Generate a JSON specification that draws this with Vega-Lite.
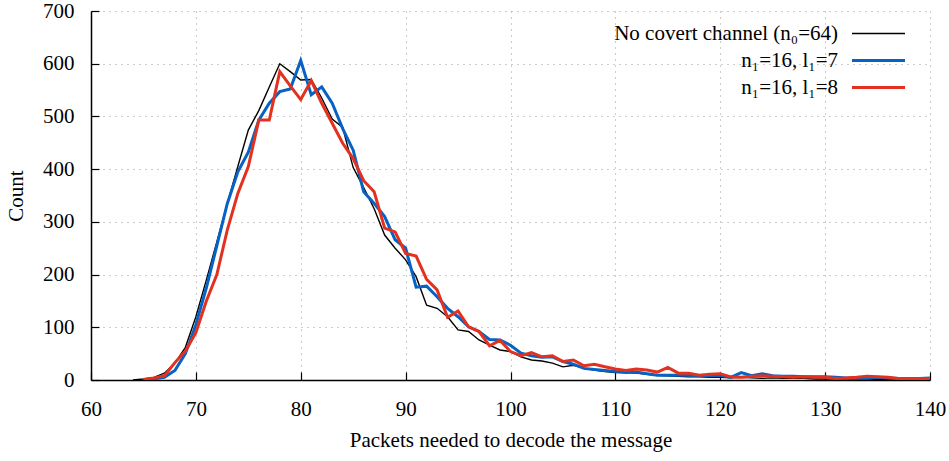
{
  "$schema": "https://vega.github.io/schema/vega-lite/v6.json",
  "width": 839,
  "height": 369,
  "autosize": "none",
  "padding": {"left": 91, "top": 11, "right": 19, "bottom": 81},
  "background": "white",
  "config": {
    "view": {"stroke": null},
    "font": "Liberation Serif",
    "axis": {
      "labelFont": "Liberation Serif",
      "labelFontSize": 21,
      "labelColor": "black",
      "labelFlush": false,
      "titleFont": "Liberation Serif",
      "titleFontSize": 21,
      "titleFontWeight": "normal",
      "titleColor": "black",
      "domainColor": "black",
      "domainWidth": 1.5,
      "tickColor": "black",
      "tickWidth": 1.2,
      "grid": true,
      "gridColor": "#9a9a9a",
      "gridDash": [1, 5],
      "gridWidth": 1
    },
    "legend": {
      "orient": "none",
      "legendX": 777,
      "legendY": 12,
      "labelFont": "Liberation Serif",
      "labelFontSize": 21,
      "labelColor": "black",
      "labelAlign": "right",
      "labelOffset": -51,
      "symbolType": "M-5.3,0H5.3",
      "symbolSize": 100,
      "rowPadding": 5,
      "labelLimit": 400
    }
  },
  "data": {"values": [
    {"x":64,"c":0,"s":"a"},{"x":65,"c":2,"s":"a"},{"x":66,"c":5,"s":"a"},{"x":67,"c":13,"s":"a"},{"x":68,"c":32,"s":"a"},{"x":69,"c":62,"s":"a"},{"x":70,"c":120,"s":"a"},{"x":71,"c":190,"s":"a"},{"x":72,"c":262,"s":"a"},{"x":73,"c":335,"s":"a"},{"x":74,"c":405,"s":"a"},{"x":75,"c":474,"s":"a"},{"x":76,"c":511,"s":"a"},{"x":77,"c":556,"s":"a"},{"x":78,"c":600,"s":"a"},{"x":79,"c":585,"s":"a"},{"x":80,"c":569,"s":"a"},{"x":81,"c":570,"s":"a"},{"x":82,"c":535,"s":"a"},{"x":83,"c":495,"s":"a"},{"x":84,"c":479,"s":"a"},{"x":85,"c":403,"s":"a"},{"x":86,"c":365,"s":"a"},{"x":87,"c":325,"s":"a"},{"x":88,"c":275,"s":"a"},{"x":89,"c":250,"s":"a"},{"x":90,"c":228,"s":"a"},{"x":91,"c":196,"s":"a"},{"x":92,"c":142,"s":"a"},{"x":93,"c":136,"s":"a"},{"x":94,"c":120,"s":"a"},{"x":95,"c":95,"s":"a"},{"x":96,"c":92,"s":"a"},{"x":97,"c":76,"s":"a"},{"x":98,"c":66,"s":"a"},{"x":99,"c":57,"s":"a"},{"x":100,"c":54,"s":"a"},{"x":101,"c":44,"s":"a"},{"x":102,"c":38,"s":"a"},{"x":103,"c":36,"s":"a"},{"x":104,"c":32,"s":"a"},{"x":105,"c":25,"s":"a"},{"x":106,"c":28,"s":"a"},{"x":107,"c":22,"s":"a"},{"x":108,"c":19,"s":"a"},{"x":109,"c":16,"s":"a"},{"x":110,"c":14,"s":"a"},{"x":111,"c":14,"s":"a"},{"x":112,"c":13,"s":"a"},{"x":113,"c":11,"s":"a"},{"x":114,"c":9,"s":"a"},{"x":115,"c":8,"s":"a"},{"x":116,"c":7,"s":"a"},{"x":117,"c":6,"s":"a"},{"x":118,"c":6,"s":"a"},{"x":119,"c":5,"s":"a"},{"x":120,"c":5,"s":"a"},{"x":121,"c":4,"s":"a"},{"x":122,"c":5,"s":"a"},{"x":123,"c":4,"s":"a"},{"x":124,"c":3,"s":"a"},{"x":125,"c":4,"s":"a"},{"x":126,"c":3,"s":"a"},{"x":127,"c":3,"s":"a"},{"x":128,"c":3,"s":"a"},{"x":129,"c":2,"s":"a"},{"x":130,"c":2,"s":"a"},{"x":131,"c":2,"s":"a"},{"x":132,"c":2,"s":"a"},{"x":133,"c":2,"s":"a"},{"x":134,"c":2,"s":"a"},{"x":135,"c":1,"s":"a"},{"x":136,"c":1,"s":"a"},{"x":137,"c":1,"s":"a"},{"x":138,"c":1,"s":"a"},{"x":139,"c":1,"s":"a"},{"x":140,"c":1,"s":"a"},
    {"x":65,"c":0,"s":"b"},{"x":66,"c":2,"s":"b"},{"x":67,"c":5,"s":"b"},{"x":68,"c":18,"s":"b"},{"x":69,"c":50,"s":"b"},{"x":70,"c":105,"s":"b"},{"x":71,"c":175,"s":"b"},{"x":72,"c":255,"s":"b"},{"x":73,"c":335,"s":"b"},{"x":74,"c":395,"s":"b"},{"x":75,"c":432,"s":"b"},{"x":76,"c":493,"s":"b"},{"x":77,"c":525,"s":"b"},{"x":78,"c":547,"s":"b"},{"x":79,"c":552,"s":"b"},{"x":80,"c":606,"s":"b"},{"x":81,"c":541,"s":"b"},{"x":82,"c":556,"s":"b"},{"x":83,"c":525,"s":"b"},{"x":84,"c":477,"s":"b"},{"x":85,"c":436,"s":"b"},{"x":86,"c":357,"s":"b"},{"x":87,"c":335,"s":"b"},{"x":88,"c":310,"s":"b"},{"x":89,"c":266,"s":"b"},{"x":90,"c":250,"s":"b"},{"x":91,"c":176,"s":"b"},{"x":92,"c":178,"s":"b"},{"x":93,"c":158,"s":"b"},{"x":94,"c":136,"s":"b"},{"x":95,"c":120,"s":"b"},{"x":96,"c":101,"s":"b"},{"x":97,"c":92,"s":"b"},{"x":98,"c":77,"s":"b"},{"x":99,"c":76,"s":"b"},{"x":100,"c":66,"s":"b"},{"x":101,"c":51,"s":"b"},{"x":102,"c":46,"s":"b"},{"x":103,"c":43,"s":"b"},{"x":104,"c":44,"s":"b"},{"x":105,"c":35,"s":"b"},{"x":106,"c":30,"s":"b"},{"x":107,"c":22,"s":"b"},{"x":108,"c":20,"s":"b"},{"x":109,"c":18,"s":"b"},{"x":110,"c":16,"s":"b"},{"x":111,"c":14,"s":"b"},{"x":112,"c":15,"s":"b"},{"x":113,"c":12,"s":"b"},{"x":114,"c":9,"s":"b"},{"x":115,"c":9,"s":"b"},{"x":116,"c":9,"s":"b"},{"x":117,"c":9,"s":"b"},{"x":118,"c":8,"s":"b"},{"x":119,"c":8,"s":"b"},{"x":120,"c":9,"s":"b"},{"x":121,"c":5,"s":"b"},{"x":122,"c":14,"s":"b"},{"x":123,"c":8,"s":"b"},{"x":124,"c":12,"s":"b"},{"x":125,"c":8,"s":"b"},{"x":126,"c":7,"s":"b"},{"x":127,"c":7,"s":"b"},{"x":128,"c":6,"s":"b"},{"x":129,"c":6,"s":"b"},{"x":130,"c":6,"s":"b"},{"x":131,"c":5,"s":"b"},{"x":132,"c":4,"s":"b"},{"x":133,"c":4,"s":"b"},{"x":134,"c":4,"s":"b"},{"x":135,"c":5,"s":"b"},{"x":136,"c":4,"s":"b"},{"x":137,"c":3,"s":"b"},{"x":138,"c":3,"s":"b"},{"x":139,"c":3,"s":"b"},{"x":140,"c":4,"s":"b"},
    {"x":65,"c":1,"s":"c"},{"x":66,"c":4,"s":"c"},{"x":67,"c":8,"s":"c"},{"x":68,"c":33,"s":"c"},{"x":69,"c":55,"s":"c"},{"x":70,"c":90,"s":"c"},{"x":71,"c":150,"s":"c"},{"x":72,"c":200,"s":"c"},{"x":73,"c":285,"s":"c"},{"x":74,"c":354,"s":"c"},{"x":75,"c":405,"s":"c"},{"x":76,"c":493,"s":"c"},{"x":77,"c":493,"s":"c"},{"x":78,"c":585,"s":"c"},{"x":79,"c":558,"s":"c"},{"x":80,"c":532,"s":"c"},{"x":81,"c":568,"s":"c"},{"x":82,"c":525,"s":"c"},{"x":83,"c":487,"s":"c"},{"x":84,"c":449,"s":"c"},{"x":85,"c":420,"s":"c"},{"x":86,"c":378,"s":"c"},{"x":87,"c":357,"s":"c"},{"x":88,"c":288,"s":"c"},{"x":89,"c":281,"s":"c"},{"x":90,"c":240,"s":"c"},{"x":91,"c":235,"s":"c"},{"x":92,"c":191,"s":"c"},{"x":93,"c":171,"s":"c"},{"x":94,"c":119,"s":"c"},{"x":95,"c":131,"s":"c"},{"x":96,"c":101,"s":"c"},{"x":97,"c":92,"s":"c"},{"x":98,"c":65,"s":"c"},{"x":99,"c":75,"s":"c"},{"x":100,"c":54,"s":"c"},{"x":101,"c":46,"s":"c"},{"x":102,"c":52,"s":"c"},{"x":103,"c":44,"s":"c"},{"x":104,"c":46,"s":"c"},{"x":105,"c":35,"s":"c"},{"x":106,"c":38,"s":"c"},{"x":107,"c":27,"s":"c"},{"x":108,"c":30,"s":"c"},{"x":109,"c":25,"s":"c"},{"x":110,"c":21,"s":"c"},{"x":111,"c":18,"s":"c"},{"x":112,"c":21,"s":"c"},{"x":113,"c":19,"s":"c"},{"x":114,"c":15,"s":"c"},{"x":115,"c":24,"s":"c"},{"x":116,"c":13,"s":"c"},{"x":117,"c":13,"s":"c"},{"x":118,"c":9,"s":"c"},{"x":119,"c":11,"s":"c"},{"x":120,"c":12,"s":"c"},{"x":121,"c":6,"s":"c"},{"x":122,"c":5,"s":"c"},{"x":123,"c":7,"s":"c"},{"x":124,"c":8,"s":"c"},{"x":125,"c":7,"s":"c"},{"x":126,"c":6,"s":"c"},{"x":127,"c":5,"s":"c"},{"x":128,"c":6,"s":"c"},{"x":129,"c":5,"s":"c"},{"x":130,"c":5,"s":"c"},{"x":131,"c":3,"s":"c"},{"x":132,"c":4,"s":"c"},{"x":133,"c":5,"s":"c"},{"x":134,"c":7,"s":"c"},{"x":135,"c":6,"s":"c"},{"x":136,"c":5,"s":"c"},{"x":137,"c":3,"s":"c"},{"x":138,"c":3,"s":"c"},{"x":139,"c":3,"s":"c"},{"x":140,"c":3,"s":"c"}
  ]},
  "mark": {"type": "line", "strokeJoin": "miter", "clip": true},
  "encoding": {
    "x": {
      "field": "x", "type": "quantitative",
      "scale": {"domain": [60, 140], "nice": false},
      "axis": {"values": [60,70,80,90,100,110,120,130,140], "tickSize": -8, "labelPadding": 26, "title": "Packets needed to decode the message", "titlePadding": 10}
    },
    "y": {
      "field": "c", "type": "quantitative",
      "scale": {"domain": [0, 700], "nice": false},
      "axis": {"values": [0,100,200,300,400,500,600,700], "tickSize": -8, "labelPadding": 25, "title": "Count", "titlePadding": 16}
    },
    "color": {
      "field": "s", "type": "nominal",
      "scale": {"domain": ["a","b","c"], "range": ["#000000","#0762c4","#e2321f"]},
      "legend": {"title": null, "labelExpr": "datum.value == 'a' ? 'No covert channel (n₀=64)' : datum.value == 'b' ? 'n₁=16, l₁=7' : 'n₁=16, l₁=8'"}
    },
    "strokeWidth": {
      "field": "s", "type": "nominal",
      "scale": {"type": "ordinal", "domain": ["a","b","c"], "range": [1.4, 3, 3]},
      "legend": {"title": null, "labelExpr": "datum.value == 'a' ? 'No covert channel (n₀=64)' : datum.value == 'b' ? 'n₁=16, l₁=7' : 'n₁=16, l₁=8'"}
    },
    "order": {"field": "x", "type": "quantitative"}
  }
}
